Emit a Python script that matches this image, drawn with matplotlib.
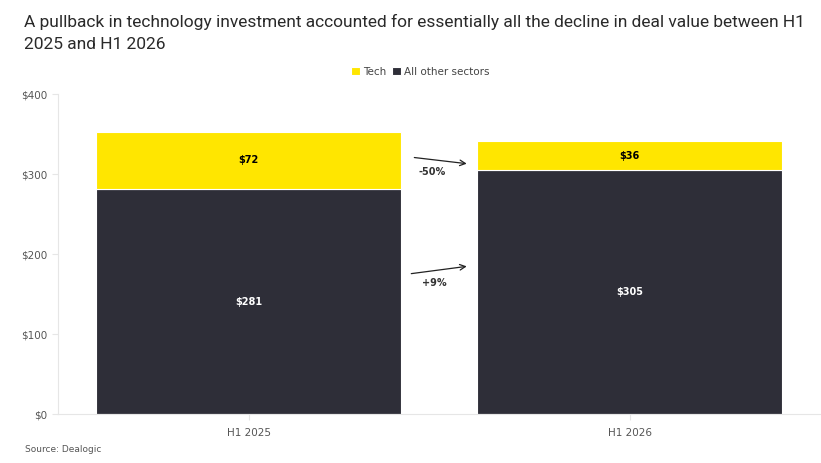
import matplotlib
matplotlib.use("Agg")
import matplotlib.pyplot as plt
import numpy as np

categories = ["H1 2025", "H1 2026"]
other_values = [281, 305]
tech_values = [72, 36]
change_labels = ["-50%", "+9%"]
yticks = [0, 100, 200, 300, 400]
ytick_labels = ["$0", "$100", "$200", "$300", "$400"]

YELLOW = "#FFE600"
DARK = "#2E2E38"
GRID = "#E6E6E6"
TXT = "#555555"

plt.rcParams['font.family'] = ['DejaVu Sans']

fig = plt.figure(figsize=(8.21, 4.63), dpi=100)
W, H = 821, 463
ax = fig.add_axes([58 / W, 1 - 414 / H, (820 - 58) / W, (414 - 94) / H])

x = np.arange(len(categories))
ax.bar(x, other_values, width=0.8, color=DARK, edgecolor="white", linewidth=0.8, label="All other sectors", zorder=2)
ax.bar(x, tech_values, width=0.8, bottom=other_values, color=YELLOW, edgecolor="white", linewidth=0.8, label="Tech", zorder=2)

for i in range(len(categories)):
    ax.text(x[i], other_values[i] / 2, f"${other_values[i]}", ha="center", va="center",
            color="white", fontsize=7, fontweight="bold")
    ax.text(x[i], other_values[i] + tech_values[i] / 2, f"${tech_values[i]}", ha="center", va="center",
            color="black", fontsize=7, fontweight="bold")

ax.set_xlim(-0.5, 1.5)
ax.set_ylim(0, 400)
ax.set_yticks(yticks)
ax.set_yticklabels(ytick_labels)
ax.set_xticks(x)
ax.set_xticklabels(categories)

for s in ["top", "right"]:
    ax.spines[s].set_visible(False)
for s in ["left", "bottom"]:
    ax.spines[s].set_color(GRID)
    ax.spines[s].set_linewidth(0.8)
ax.tick_params(axis="both", colors=GRID, labelcolor=TXT, labelsize=7.5, length=4, width=0.8)
ax.tick_params(axis="x", pad=6)

# Arrows for change annotations
ax.annotate("", xy=(0.58, 312.5), xytext=(0.428, 321),
            arrowprops=dict(arrowstyle="->", color="#222222", lw=0.9))
ax.text(0.483, 302, change_labels[0], ha="center", va="center", fontsize=7, fontweight="bold", color="#333333")
ax.annotate("", xy=(0.58, 185), xytext=(0.42, 175),
            arrowprops=dict(arrowstyle="->", color="#222222", lw=0.9))
ax.text(0.488, 164, change_labels[1], ha="center", va="center", fontsize=7, fontweight="bold", color="#333333")

fig.text(24 / W, 1 - 33 / H,
         "A pullback in technology investment accounted for essentially all the decline in deal value between H1\n2025 and H1 2026",
         ha="left", va="center", fontsize=12.5, color="#2a2a2a", linespacing=1.6,
         family=["Roboto", "DejaVu Sans"])

handles, labels = ax.get_legend_handles_labels()
leg = fig.legend(handles[::-1], labels[::-1], loc="center", bbox_to_anchor=(0.512, 1 - 72 / H), ncol=2,
                 frameon=False, fontsize=7.5, handlelength=0.8, handleheight=0.8, handletextpad=0.3,
                 columnspacing=0.6, labelcolor="#444444")

fig.text(25 / W, 1 - 450 / H, "Source: Dealogic", ha="left", va="center", fontsize=6.5, color="#555555")

fig.savefig("out.png", dpi=100)
